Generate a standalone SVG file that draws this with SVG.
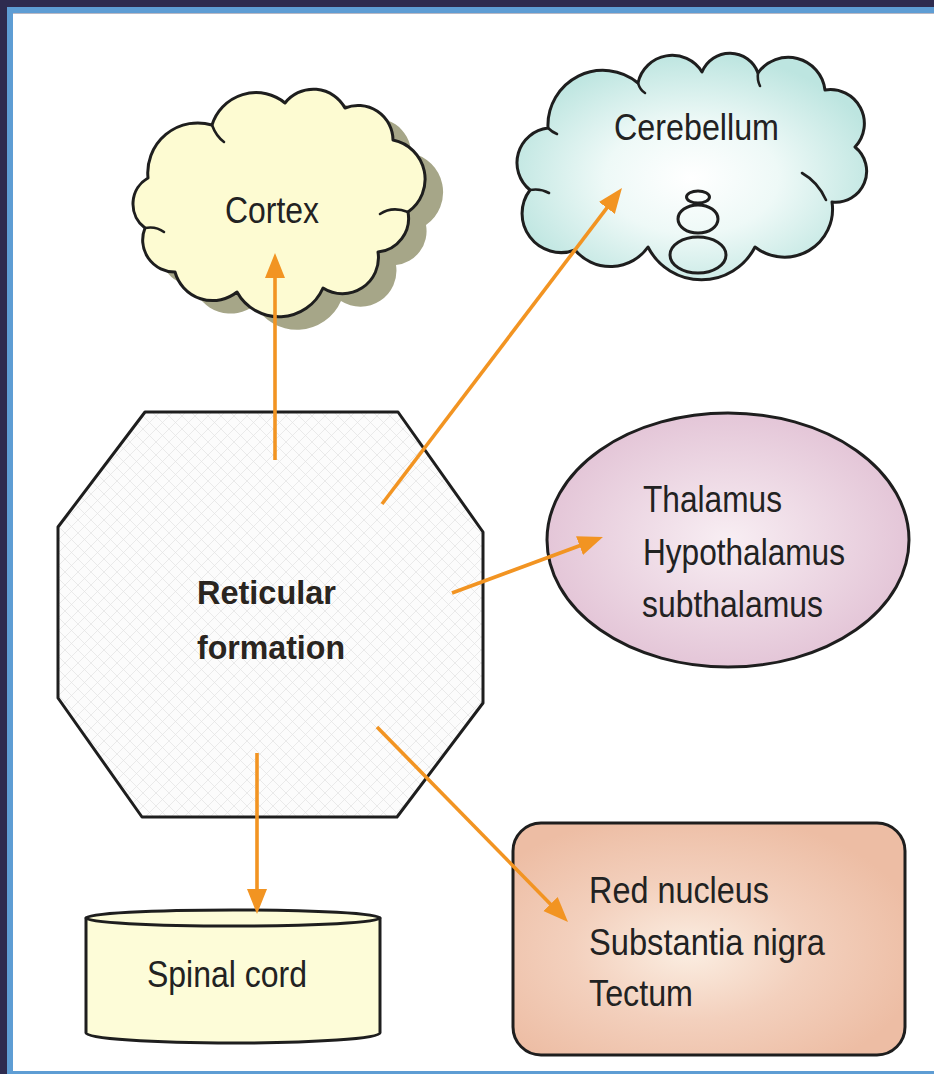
<svg xmlns="http://www.w3.org/2000/svg" width="934" height="1074" viewBox="0 0 934 1074">
<style>
.t{font-family:"Liberation Sans",Arial,sans-serif;font-size:37px;fill:#222;}
.tb{font-family:"Liberation Sans",Arial,sans-serif;font-size:33px;font-weight:bold;fill:#2a2520;}
.ol{stroke:#1e1e1e;stroke-width:3;stroke-linejoin:round;}
.curl{fill:none;stroke:#1e1e1e;stroke-width:2.6;stroke-linecap:round;}
.arr{stroke:#f29422;stroke-width:3.6;fill:none;marker-end:url(#ah);}
</style>
<defs>
<marker id="ah" markerUnits="userSpaceOnUse" markerWidth="26" markerHeight="22" refX="13" refY="11" orient="auto">
<path d="M0,1 L25,11 L0,21 z" fill="#f29422"/>
</marker>
<pattern id="hatch" patternUnits="userSpaceOnUse" width="13" height="13">
<rect width="13" height="13" fill="#fcfcfc"/>
<path d="M0,0 L13,13 M13,0 L0,13" stroke="#e3e3e3" stroke-width="0.7"/>
</pattern>
<radialGradient id="gCer" cx="0.5" cy="0.55" r="0.55">
<stop offset="0" stop-color="#ffffff"/>
<stop offset="0.45" stop-color="#eef9f7"/>
<stop offset="1" stop-color="#bde5e0"/>
</radialGradient>
<radialGradient id="gTha" cx="0.5" cy="0.5" r="0.55">
<stop offset="0" stop-color="#f8eef3"/>
<stop offset="1" stop-color="#e2c2d5"/>
</radialGradient>
<radialGradient id="gRed" cx="0.45" cy="0.55" r="0.6">
<stop offset="0" stop-color="#fbeee2"/>
<stop offset="0.5" stop-color="#f3d0bd"/>
<stop offset="1" stop-color="#edbda4"/>
</radialGradient>
</defs>

<!-- frame -->
<rect x="0" y="0" width="934" height="1074" fill="#2e2b4f"/>
<rect x="7" y="7" width="927" height="1067" fill="#5e9dd4"/>
<rect x="13" y="13" width="921" height="1058" fill="#ffffff"/>
<line x1="13" y1="13.5" x2="934" y2="13.5" stroke="#b8b8c4" stroke-width="1"/>

<g id="cortex">
<path transform="translate(18,13)" fill="#a6a688" d="M148,178 A50,50 0 0 1 212,125 A46,46 0 0 1 285,103 A36,36 0 0 1 345,108 A35,35 0 0 1 393,140 A40,40 0 0 1 408,212 A34,34 0 0 1 378,252 A36,36 0 0 1 323,288 A48,48 0 0 1 237,292 A39,39 0 0 1 175,272 A32,32 0 0 1 145,228 A30,30 0 0 1 148,178 Z"/>
<path class="ol" fill="#fdfbd2" d="M148,178 A50,50 0 0 1 212,125 A46,46 0 0 1 285,103 A36,36 0 0 1 345,108 A35,35 0 0 1 393,140 A40,40 0 0 1 408,212 A34,34 0 0 1 378,252 A36,36 0 0 1 323,288 A48,48 0 0 1 237,292 A39,39 0 0 1 175,272 A32,32 0 0 1 145,228 A30,30 0 0 1 148,178 Z"/>
<path class="curl" d="M408,212 Q392,206 380,214"/>
<path class="curl" d="M145,228 Q156,226 164,232"/>
<path class="curl" d="M212,125 Q216,136 224,142"/>
<text class="t" x="225" y="223" textLength="94" lengthAdjust="spacingAndGlyphs">Cortex</text>
</g>

<g id="cerebellum">
<path class="ol" fill="url(#gCer)" d="M548,128 A55,55 0 0 1 638,83 A35,35 0 0 1 702,72 A30,30 0 0 1 758,73 A37,37 0 0 1 825,90 A34,34 0 0 1 855,147 A31,31 0 0 1 832,202 A48,48 0 0 1 755,247 A60,60 0 0 1 648,247 A46,46 0 0 1 575,250 A39,39 0 0 1 530,190 A35,35 0 0 1 548,128 Z"/>
<path class="curl" d="M548,128 Q552,132 557,134"/>
<path class="curl" d="M530,190 Q540,188 549,193"/>
<path class="curl" d="M802,173 Q818,182 826,200"/>
<path class="curl" d="M638,83 Q640,90 645,93"/>
<path class="curl" d="M758,73 Q757,80 760,86"/>
<ellipse class="ol" fill="none" cx="698" cy="197" rx="11.5" ry="6"/>
<ellipse class="ol" fill="none" cx="698" cy="219" rx="20" ry="14"/>
<ellipse class="ol" fill="none" cx="698" cy="255" rx="28" ry="18"/>
<text class="t" x="614" y="140" textLength="165" lengthAdjust="spacingAndGlyphs">Cerebellum</text>
</g>

<g id="reticular">
<polygon class="ol" fill="url(#hatch)" points="145,412 398,412 483,532 483,703 397,817 142,817 58,698 58,527"/>
<text class="tb" x="197" y="604" textLength="139" lengthAdjust="spacingAndGlyphs">Reticular</text>
<text class="tb" x="197" y="659" textLength="148" lengthAdjust="spacingAndGlyphs">formation</text>
</g>

<g id="thalamus">
<ellipse class="ol" fill="url(#gTha)" cx="728" cy="540" rx="181" ry="127"/>
<text class="t" x="643" y="512" textLength="139" lengthAdjust="spacingAndGlyphs">Thalamus</text>
<text class="t" x="643" y="565" textLength="202" lengthAdjust="spacingAndGlyphs">Hypothalamus</text>
<text class="t" x="642" y="617" textLength="181" lengthAdjust="spacingAndGlyphs">subthalamus</text>
</g>

<g id="spinal-cord">
<path class="ol" fill="#fdfcd8" d="M86,918 L86,1033 A147,10 0 0 0 380,1033 L380,918 Z"/>
<ellipse class="ol" fill="#fdfcd8" cx="233" cy="918" rx="147" ry="8"/>
<text class="t" x="147" y="987" textLength="160" lengthAdjust="spacingAndGlyphs">Spinal cord</text>
</g>

<g id="midbrain">
<rect class="ol" fill="url(#gRed)" x="513" y="823" width="392" height="232" rx="28" ry="28"/>
<text class="t" x="589" y="903" textLength="180" lengthAdjust="spacingAndGlyphs">Red nucleus</text>
<text class="t" x="589" y="955" textLength="236" lengthAdjust="spacingAndGlyphs">Substantia nigra</text>
<text class="t" x="589" y="1006" textLength="104" lengthAdjust="spacingAndGlyphs">Tectum</text>
</g>

<g id="connectors">
<line class="arr" x1="275" y1="460" x2="275" y2="265"/>
<line class="arr" x1="382" y1="504" x2="614.7" y2="197.6"/>
<line class="arr" x1="452" y1="593" x2="591.7" y2="541.2"/>
<line class="arr" x1="377" y1="727" x2="559.6" y2="913.4"/>
<line class="arr" x1="257" y1="753" x2="257" y2="902"/>
</g>
</svg>
